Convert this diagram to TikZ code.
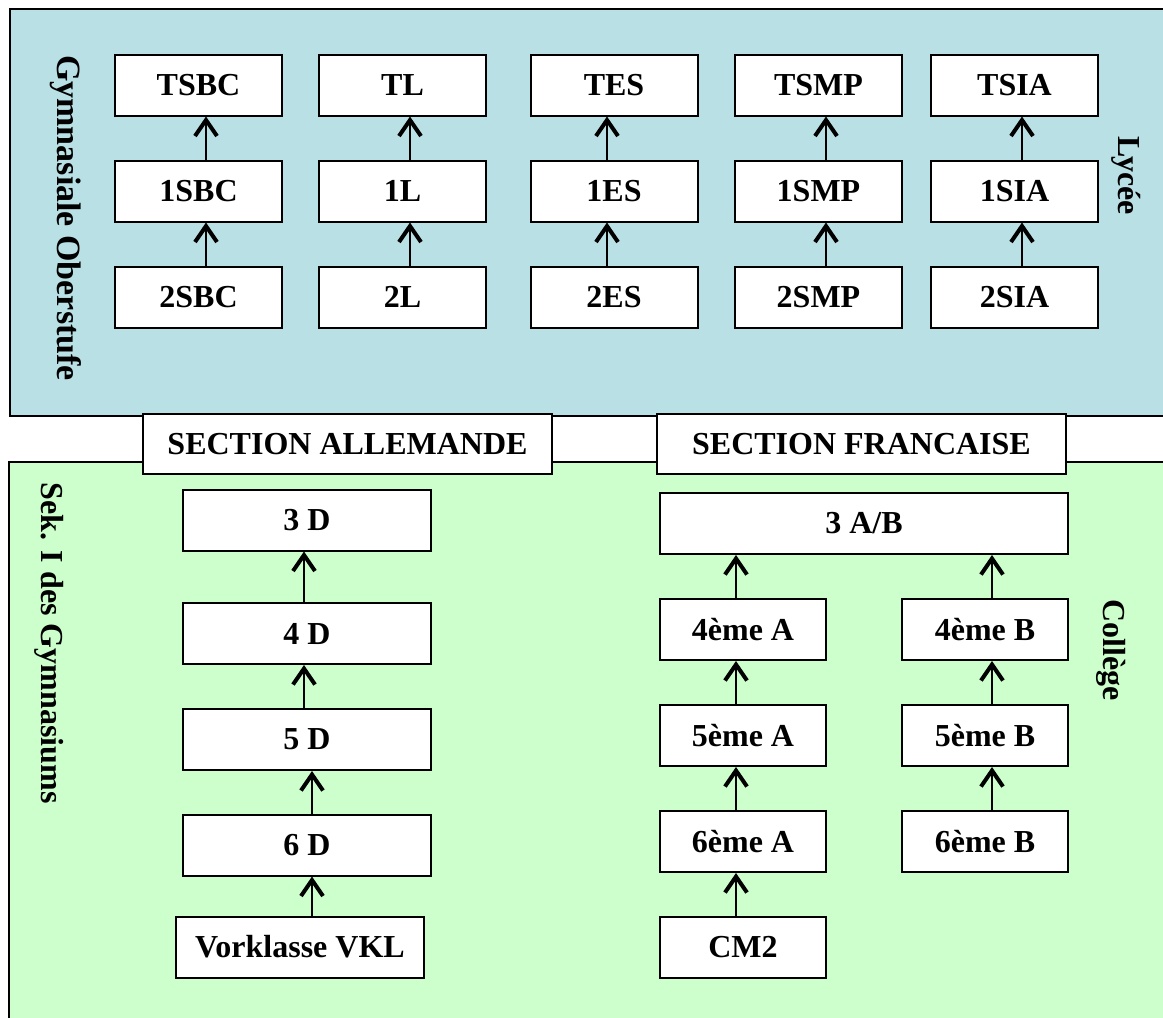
\documentclass[tikz,border=0pt]{standalone}
\usepackage{fontspec}
\setmainfont{Liberation Serif}
\usepackage{tikz}
\usetikzlibrary{arrows.meta}
\definecolor{lyceeblue}{RGB}{185, 224, 228}
\definecolor{collegegreen}{RGB}{204, 255, 204}

\tikzset{
  klasse/.style={draw, fill=white, line width=1pt, inner sep=0pt,
                 minimum width=83.5pt, minimum height=30.5pt,
                 font=\fontsize{16}{18}\selectfont\bfseries},
  section/.style={klasse, minimum width=204.5pt, minimum height=30pt},
  pfeil/.style={line width=0.6pt, -{Straight Barb[length=8pt,width=11pt,line width=2pt]}},
  seite/.style={font=\fontsize{16}{18}\selectfont\bfseries, rotate=-90}
}

\begin{document}
\begin{tikzpicture}[x=0.5pt,y=-0.5pt]
            \useasboundingbox (0,0) rectangle (1163,1018);
            \clip (0,0) rectangle (1163,1018);
            % panels
            \filldraw[fill=lyceeblue,   line width=1pt] (10,  9) rectangle (1180, 416);
            \filldraw[fill=collegegreen, line width=1pt] ( 9,462) rectangle (1180,1040);
            \node[seite, font=\fontsize{17}{19}\selectfont\bfseries] (gymob) at (66,218) {Gymnasiale Oberstufe};
            \node[seite] (lycee)   at (1126,176) {Lycée};
            \node[seite] (sek)     at (  49,643) {Sek. I des Gymnasiums};
            \node[seite] (college) at (1111,650) {Collège};
            % lycee
            \node[klasse] (termSBC) at ( 198.5, 85) {TSBC};
            \node[klasse] (premSBC) at ( 198.5,191) {1SBC};
            \node[klasse] (secSBC)  at ( 198.5,297) {2SBC};
            \node[klasse] (termL)   at ( 402.5, 85) {TL};
            \node[klasse] (premL)   at ( 402.5,191) {1L};
            \node[klasse] (secL)    at ( 402.5,297) {2L};
            \node[klasse] (termES)  at ( 614.0, 85) {TES};
            \node[klasse] (premES)  at ( 614.0,191) {1ES};
            \node[klasse] (secES)   at ( 614.0,297) {2ES};
            \node[klasse] (termSMP) at ( 818.5, 85) {TSMP};
            \node[klasse] (premSMP) at ( 818.5,191) {1SMP};
            \node[klasse] (secSMP)  at ( 818.5,297) {2SMP};
            \node[klasse] (termSIA) at (1014.5, 85) {TSIA};
            \node[klasse] (premSIA) at (1014.5,191) {1SIA};
            \node[klasse] (secSIA)  at (1014.5,297) {2SIA};
            \draw[pfeil] ([xshift= 3.75pt]premSBC.north) -- ([xshift= 3.75pt]termSBC.south);
            \draw[pfeil] ([xshift= 3.75pt]secSBC.north)  -- ([xshift= 3.75pt]premSBC.south);
            \draw[pfeil] ([xshift= 3.75pt]premL.north)   -- ([xshift= 3.75pt]termL.south);
            \draw[pfeil] ([xshift= 3.75pt]secL.north)    -- ([xshift= 3.75pt]premL.south);
            \draw[pfeil] ([xshift=-3.5pt]premES.north)   -- ([xshift=-3.5pt]termES.south);
            \draw[pfeil] ([xshift=-3.5pt]secES.north)    -- ([xshift=-3.5pt]premES.south);
            \draw[pfeil] ([xshift= 3.75pt]premSMP.north) -- ([xshift= 3.75pt]termSMP.south);
            \draw[pfeil] ([xshift= 3.75pt]secSMP.north)  -- ([xshift= 3.75pt]premSMP.south);
            \draw[pfeil] ([xshift= 3.75pt]premSIA.north) -- ([xshift= 3.75pt]termSIA.south);
            \draw[pfeil] ([xshift= 3.75pt]secSIA.north)  -- ([xshift= 3.75pt]premSIA.south);
            % sections
            \node[section] (secAll) at (347.5,444) {SECTION ALLEMANDE};
            \node[section] (secFra) at (861.5,444) {SECTION FRANCAISE};
            % section allemande
            \node[klasse, minimum width=124pt] (dreiD)  at (307,520.0) {3 D};
            \node[klasse, minimum width=124pt] (vierD)  at (307,633.5) {4 D};
            \node[klasse, minimum width=124pt] (fuenfD) at (307,739.5) {5 D};
            \node[klasse, minimum width=124pt] (sechsD) at (307,845.0) {6 D};
            \node[klasse, minimum width=124pt] (vkl)    at (300,947.0) {Vorklasse VKL};
            \draw[pfeil] ([xshift=-1.5pt]vierD.north)  -- ([xshift=-1.5pt]dreiD.south);
            \draw[pfeil] ([xshift=-1.5pt]fuenfD.north) -- ([xshift=-1.5pt]vierD.south);
            \draw[pfeil] ([xshift= 2.5pt]sechsD.north) -- ([xshift= 2.5pt]fuenfD.south);
            \draw[pfeil] ([xshift= 6pt]vkl.north)      -- ([xshift= 2.5pt]sechsD.south);
            % section francaise
            \node[klasse, minimum width=204pt] (dreiAB) at (864,523.5) {3 A/B};
            \node[klasse, minimum width=83pt] (vierA)  at (743,629.5) {4ème A};
            \node[klasse, minimum width=83pt] (fuenfA) at (743,735.5) {5ème A};
            \node[klasse, minimum width=83pt] (sechsA) at (743,841.5) {6ème A};
            \node[klasse, minimum width=83pt] (cm2)    at (743,947.0) {CM2};
            \node[klasse, minimum width=83pt] (vierB)  at (985,629.5) {4ème B};
            \node[klasse, minimum width=83pt] (fuenfB) at (985,735.5) {5ème B};
            \node[klasse, minimum width=83pt] (sechsB) at (985,841.5) {6ème B};
            \draw[pfeil] ([xshift=-3.5pt]vierA.north)  -- ([xshift=-64pt]dreiAB.south);
            \draw[pfeil] ([xshift=-3.5pt]fuenfA.north) -- ([xshift=-3.5pt]vierA.south);
            \draw[pfeil] ([xshift=-3.5pt]sechsA.north) -- ([xshift=-3.5pt]fuenfA.south);
            \draw[pfeil] ([xshift=-3.5pt]cm2.north)    -- ([xshift=-3.5pt]sechsA.south);
            \draw[pfeil] ([xshift= 3.5pt]vierB.north)  -- ([xshift= 64pt]dreiAB.south);
            \draw[pfeil] ([xshift= 3.5pt]fuenfB.north) -- ([xshift= 3.5pt]vierB.south);
            \draw[pfeil] ([xshift= 3.5pt]sechsB.north) -- ([xshift= 3.5pt]fuenfB.south);
\end{tikzpicture}
\end{document}
